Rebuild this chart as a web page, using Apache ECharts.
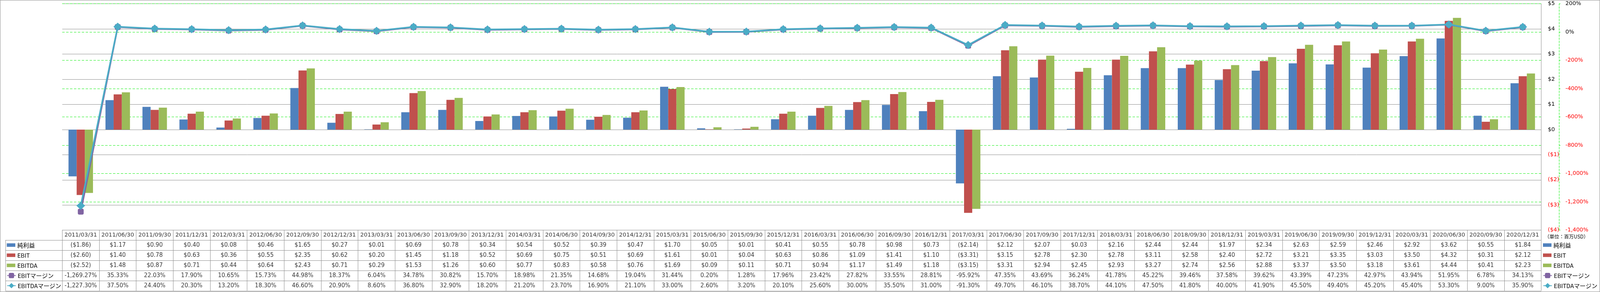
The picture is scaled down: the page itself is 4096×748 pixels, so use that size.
<!DOCTYPE html>
<html><head><meta charset="utf-8">
<script src="https://cdn.jsdelivr.net/npm/echarts@6/dist/echarts.min.js"></script>
<style>html,body{margin:0;padding:0;background:#fff}#c{width:4096px;height:748px}</style>
</head><body><div id="c"></div><script>
// ---------- data ----------
const categories = ['2011/03/31','2011/06/30','2011/09/30','2011/12/31','2012/03/31','2012/06/30','2012/09/30','2012/12/31','2013/03/31','2013/06/30','2013/09/30','2013/12/31','2014/03/31','2014/06/30','2014/09/30','2014/12/31','2015/03/31','2015/06/30','2015/09/30','2015/12/31','2016/03/31','2016/06/30','2016/09/30','2016/12/31','2017/03/31','2017/06/30','2017/09/30','2017/12/31','2018/03/31','2018/06/30','2018/09/30','2018/12/31','2019/03/31','2019/06/30','2019/09/30','2019/12/31','2020/03/31','2020/06/30','2020/09/30','2020/12/31'];
const netIncome = [-1.86,1.17,0.90,0.40,0.08,0.46,1.65,0.27,0.01,0.69,0.78,0.34,0.54,0.52,0.39,0.47,1.70,0.05,0.01,0.41,0.55,0.78,0.98,0.73,-2.14,2.12,2.07,0.03,2.16,2.44,2.44,1.97,2.34,2.63,2.59,2.46,2.92,3.62,0.55,1.84];
const ebit = [-2.60,1.40,0.78,0.63,0.36,0.55,2.35,0.62,0.20,1.45,1.18,0.52,0.69,0.75,0.51,0.69,1.61,0.01,0.04,0.63,0.86,1.09,1.41,1.10,-3.31,3.15,2.78,2.30,2.78,3.11,2.58,2.40,2.72,3.21,3.35,3.03,3.50,4.32,0.31,2.12];
const ebitda = [-2.52,1.48,0.87,0.71,0.44,0.64,2.43,0.71,0.29,1.53,1.26,0.60,0.77,0.83,0.58,0.76,1.69,0.09,0.11,0.71,0.94,1.17,1.49,1.18,-3.15,3.31,2.94,2.45,2.93,3.27,2.74,2.56,2.88,3.37,3.50,3.18,3.61,4.44,0.41,2.23];
const ebitMargin = [-1269.27,35.33,22.03,17.90,10.65,15.73,44.98,18.37,6.04,34.78,30.82,15.70,18.98,21.35,14.68,19.04,31.44,0.20,1.28,17.96,23.42,27.82,33.55,28.81,-95.92,47.35,43.69,36.24,41.78,45.22,39.46,37.58,39.62,43.39,47.23,42.97,43.94,51.95,6.78,34.13];
const ebitdaMargin = [-1227.30,37.50,24.40,20.30,13.20,18.30,46.60,20.90,8.60,36.80,32.90,18.20,21.20,23.70,16.90,21.10,33.00,2.60,3.20,20.10,25.60,30.00,35.50,31.00,-91.30,49.70,46.10,38.70,44.10,47.50,41.80,40.00,41.90,45.50,49.40,45.20,45.40,53.30,9.00,35.90];
const seriesNames = ['純利益','EBIT','EBITDA','EBITマージン','EBITDAマージン'];
const dollarAxis = {min:-4, max:5, interval:1};
const pctAxis = {min:-1400, max:200, interval:200};
const unitText = '（単位：百万USD）';

// ---------- styles / layout ----------
const colors = ['#4F81BD','#C0504D','#9BBB59','#8064A2','#4BACC6'];
const GRAY = '#8c8c8c', GREEN = '#00ee00', RED = '#ff0000';
const PL = 159.4, PR = 3945.6, PT = 9.6, PB = 589.7;
const TT = 588.8, ROWH = 26, NROWS = 6;
const LC = 13.9;
const fAxis = 'DejaVu Sans, Verdana, sans-serif';
const fCond = "'DejaVu Sans Condensed','Liberation Sans Narrow','Noto Sans',sans-serif";
const fJP = "'Noto Sans CJK JP','Noto Sans',sans-serif";

function withCommas(s){ return s.replace(/\B(?=(\d{3})+(?!\d))/g, ','); }
function fmtDollar(v){ const a = Math.abs(v).toFixed(2); return v < 0 ? '($' + a + ')' : '$' + a; }
function fmtPct(v){ const a = Math.abs(v).toFixed(2).split('.'); return (v < 0 ? '-' : '') + withCommas(a[0]) + '.' + a[1] + '%'; }

const valueRows = [netIncome.map(fmtDollar), ebit.map(fmtDollar), ebitda.map(fmtDollar), ebitMargin.map(fmtPct), ebitdaMargin.map(fmtPct)];
const headerCells = categories.map((c,i) => [i, 0, c]);
const valueCells = [];
valueRows.forEach((row, r) => row.forEach((t, i) => valueCells.push([i, r + 1, t])));

const legends = [];
seriesNames.forEach((n, k) => {
  const cy = TT + ROWH * (k + 1.5);
  [17.4, 3950].forEach(lx => {
    const lg = {data:[n], left: lx, top: cy - 9, padding: 0, selectedMode: false,
      itemWidth: 21.8, itemHeight: k < 3 ? 9 : 17,
      textStyle: {fontFamily: fJP, fontSize: 15, lineHeight: 18, color: '#000'}};
    if (k < 3) lg.icon = 'rect';
    legends.push(lg);
  });
});

const chart = echarts.init(document.getElementById('c'), null, {renderer:'canvas'});
chart.setOption({
  animation: false,
  backgroundColor: '#fff',
  graphic: [
    {type:'rect', shape:{x:0.5, y:0.5, width:4095, height:747}, style:{fill:'none', stroke:GRAY, lineWidth:1}, silent:true},
    {type:'text', left: 3954, top: 600, style:{text: unitText, font: '12.5px ' + fJP, fill:'#000'}}
  ],
  legend: legends,
  grid: [
    {left: PL, top: PT, width: PR - PL, height: PB - PT},
    {left: PL, top: TT, width: PR - PL, height: ROWH * NROWS},
    {left: LC, top: TT + ROWH, width: PL - LC, height: ROWH * (NROWS - 1)}
  ],
  xAxis: [
    {type:'category', gridIndex:0, data: categories, boundaryGap:true,
      axisLine:{show:true, onZero:true, onZeroAxisIndex:0, lineStyle:{color:GRAY}}, axisTick:{show:false}, axisLabel:{show:false}, splitLine:{show:false}},
    {type:'category', gridIndex:1, data: categories, boundaryGap:true,
      axisLine:{show:false}, axisTick:{show:false}, axisLabel:{show:false},
      splitLine:{show:true, interval:0, lineStyle:{color:GRAY, width:1}}},
    {type:'value', gridIndex:2, min:0, max:1, interval:1,
      axisLine:{show:false}, axisTick:{show:false}, axisLabel:{show:false},
      splitLine:{show:true, lineStyle:{color:GRAY, width:1}}}
  ],
  yAxis: [
    {type:'value', gridIndex:0, position:'right', min:dollarAxis.min, max:dollarAxis.max, interval:dollarAxis.interval,
      axisLine:{show:true, lineStyle:{color:GRAY}}, axisTick:{show:false},
      axisLabel:{show:true, margin:17, align:'left', fontFamily:fAxis, fontSize:14,
        formatter: v => v < 0 ? '($' + (-v) + ')' : '$' + v,
        color: v => (+v < 0 ? RED : '#000')},
      splitLine:{show:true, lineStyle:{color:GRAY, width:1}}},
    {type:'value', gridIndex:0, position:'right', offset:46, min:pctAxis.min, max:pctAxis.max, interval:pctAxis.interval,
      axisLine:{show:true, lineStyle:{color:GREEN, type:[5,3], width:1}},
      axisTick:{show:true, inside:false, length:3, lineStyle:{color:GREEN}},
      axisLabel:{show:true, margin:16, align:'left', fontFamily:fAxis, fontSize:14,
        formatter: v => (v < 0 ? '-' : '') + withCommas(String(Math.abs(v))) + '%',
        color: v => (+v < 0 ? RED : '#000')},
      splitLine:{show:true, lineStyle:{color:GREEN, type:[6,4], width:1}}},
    {type:'category', gridIndex:1, inverse:true, data:[0,1,2,3,4,5],
      axisLine:{show:false}, axisTick:{show:false}, axisLabel:{show:false},
      splitLine:{show:true, interval:0, lineStyle:{color:GRAY, width:1}}},
    {type:'category', gridIndex:2, inverse:true, data:[0,1,2,3,4],
      axisLine:{show:false}, axisTick:{show:false}, axisLabel:{show:false},
      splitLine:{show:true, interval:0, lineStyle:{color:GRAY, width:1}}}
  ],
  series: [
    {name:seriesNames[0], type:'bar', xAxisIndex:0, yAxisIndex:0, data:netIncome, barWidth:20.9, barGap:'0%', itemStyle:{color:colors[0]}},
    {name:seriesNames[1], type:'bar', xAxisIndex:0, yAxisIndex:0, data:ebit, barWidth:20.9, barGap:'0%', itemStyle:{color:colors[1]}},
    {name:seriesNames[2], type:'bar', xAxisIndex:0, yAxisIndex:0, data:ebitda, barWidth:20.9, barGap:'0%', itemStyle:{color:colors[2]}},
    {name:seriesNames[3], type:'line', xAxisIndex:0, yAxisIndex:1, data:ebitMargin, symbol:'roundRect', symbolSize:15,
      lineStyle:{color:colors[3], width:4}, itemStyle:{color:colors[3]}, z:3},
    {name:seriesNames[4], type:'line', xAxisIndex:0, yAxisIndex:1, data:ebitdaMargin, symbol:'diamond', symbolSize:[22,21],
      lineStyle:{color:colors[4], width:4}, itemStyle:{color:colors[4]}, z:4},
    {type:'scatter', xAxisIndex:1, yAxisIndex:2, data:headerCells, symbolSize:1, silent:true, itemStyle:{color:'transparent'},
      label:{show:true, position:'inside', formatter: p => p.value[2], fontFamily:fAxis, fontSize:14.5, color:'#000'}},
    {type:'scatter', xAxisIndex:1, yAxisIndex:2, data:valueCells, symbolSize:1, silent:true, itemStyle:{color:'transparent'},
      label:{show:true, position:'inside', formatter: p => p.value[2], fontFamily:fCond, fontSize:16, color:'#000'}}
  ]
});
</script></body></html>
